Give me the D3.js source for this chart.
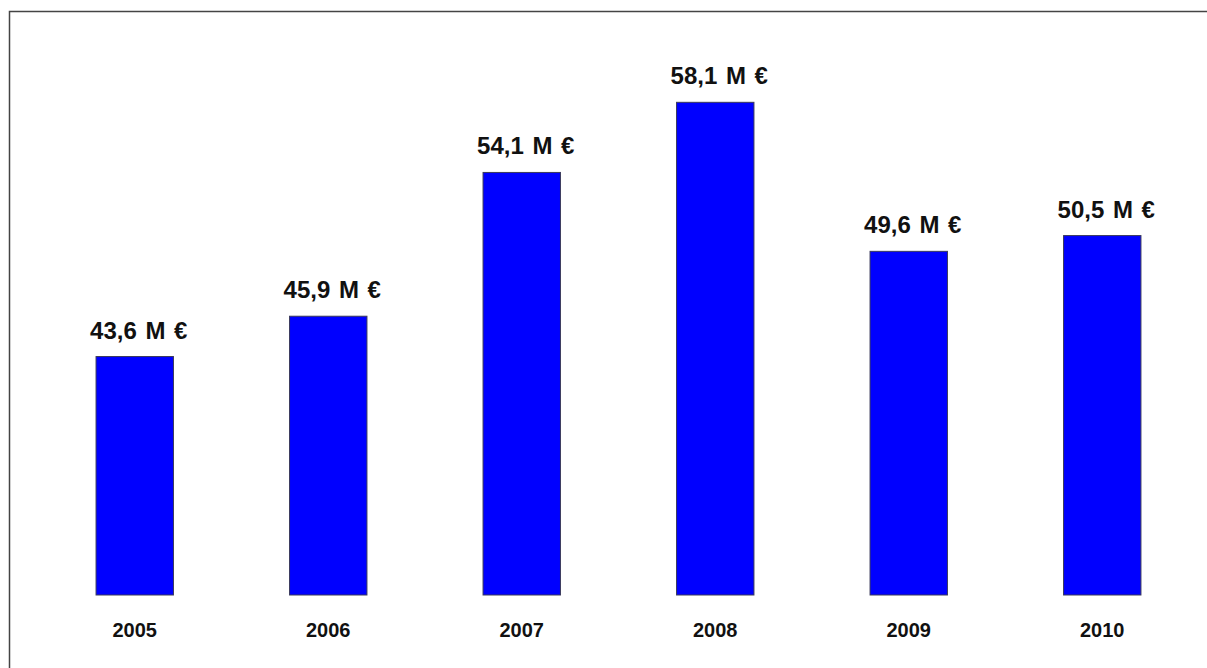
<!DOCTYPE html>
<html>
<head>
<meta charset="utf-8">
<script src="https://cdn.jsdelivr.net/npm/d3@7"></script>
<style>
  body { margin: 0; background: #fff; }
  svg { display: block; font-family: "Liberation Sans", Arial, sans-serif; }
</style>
</head>
<body>
<svg id="bar-chart" width="1207" height="668"></svg>
<script>
// chart values
let years = ["2005", "2006", "2007", "2008", "2009", "2010"];
let revenue = [43.6, 45.9, 54.1, 58.1, 49.6, 50.5];
let valueLabels = ["43,6 M €", "45,9 M €", "54,1 M €", "58,1 M €", "49,6 M €", "50,5 M €"];

let svg = d3.select("#bar-chart");

// frame line (only left and top edges show)
svg.append("path")
  .attr("d", "M9.5,668V11.5H1207")
  .attr("fill", "none")
  .attr("stroke", "#444")
  .attr("stroke-width", 1.5);

let baseline = 595;

let x = d3.scaleBand()
  .domain(years)
  .range([38, 1199])
  .paddingInner(0.6)
  .paddingOuter(0.3);

// value axis does not start at zero in the original
let y = d3.scaleLinear()
  .domain([30, 60])
  .range([baseline, 69]);

let data = years.map((yr, i) => ({year: yr, value: revenue[i], label: valueLabels[i]}));

let plot = svg.append("g").attr("id", "plot");

plot.selectAll("rect")
  .data(data)
  .enter().append("rect")
    .attr("x", d => x(d.year))
    .attr("y", d => y(d.value))
    .attr("width", x.bandwidth())
    .attr("height", d => baseline - y(d.value))
    .attr("fill", "#0000ff")
    .attr("stroke", "#3a3a5a")
    .attr("stroke-width", 1);

plot.selectAll("text.value")
  .data(data)
  .enter().append("text")
    .attr("class", "value")
    .attr("x", d => x(d.year) + x.bandwidth() / 2 + 4)
    .attr("y", d => y(d.value) - 18)
    .attr("text-anchor", "middle")
    .attr("font-size", 24)
    .attr("font-weight", "bold")
    .attr("word-spacing", 2)
    .attr("fill", "#111")
    .text(d => d.label);

// category labels under the bars
let xAxis = d3.axisBottom(x).tickSize(0).tickPadding(0);
let xGroup = plot.append("g").attr("id", "x-axis")
  .attr("transform", "translate(0," + baseline + ")")
  .call(xAxis);
xGroup.select(".domain").remove();
xGroup.selectAll("text")
  .attr("dy", null)
  .attr("y", 42)
  .attr("font-size", 20)
  .attr("font-weight", "bold")
  .attr("font-family", "Liberation Sans, Arial, sans-serif")
  .attr("fill", "#111");
</script>
</body>
</html>
